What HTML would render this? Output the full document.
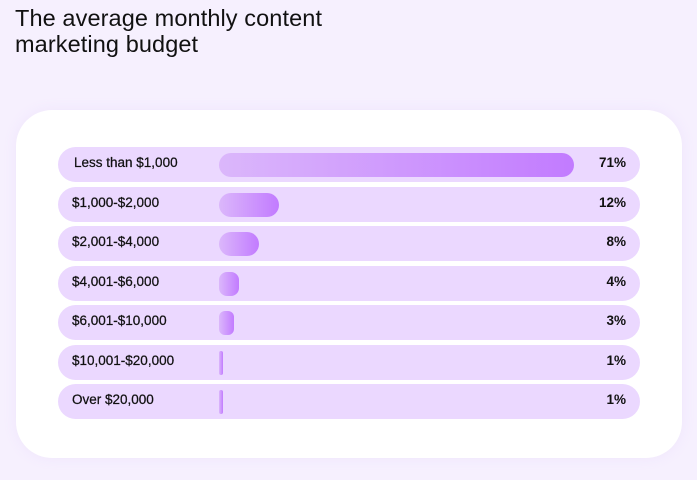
<!DOCTYPE html>
<html><head><meta charset="utf-8"><style>
*{margin:0;padding:0;box-sizing:border-box}
body{width:697px;height:480px;overflow:hidden;background:#f6f0fe;font-family:"Liberation Sans",sans-serif;color:#111;position:relative}
h1{position:absolute;left:15px;top:5px;font-size:23.5px;font-weight:normal;line-height:26px;letter-spacing:0.1px;width:360px}
.card{position:absolute;left:16px;top:110px;width:666px;height:348px;background:#fff;border-radius:36px;box-shadow:0 0 14px #efe5fd}
.row{position:absolute;left:58px;width:582px;height:35px;background:#ebd8ff;border-radius:18px}
.lab{position:absolute;left:14px;top:8px;font-size:13.5px;-webkit-text-stroke:0.25px #111}
.pct{position:absolute;right:14px;top:8px;font-size:13.5px;font-weight:bold}
.bar{position:absolute;left:161px;top:6px;height:24px;border-radius:12px;background:linear-gradient(90deg,#dbb7fb,#c27bff)}
</style></head><body>
<h1>The average monthly content marketing budget</h1>
<div class="card"></div>
<div class="row" style="top:147px"><span class="lab" style="left:16px">Less than $1,000</span><div class="bar" style="width:355px"></div><span class="pct">71%</span></div>
<div class="row" style="top:186.5px"><span class="lab">$1,000-$2,000</span><div class="bar" style="width:60px"></div><span class="pct">12%</span></div>
<div class="row" style="top:226px"><span class="lab">$2,001-$4,000</span><div class="bar" style="width:40px"></div><span class="pct">8%</span></div>
<div class="row" style="top:265.5px"><span class="lab">$4,001-$6,000</span><div class="bar" style="width:20px;border-radius:8px"></div><span class="pct">4%</span></div>
<div class="row" style="top:305px"><span class="lab">$6,001-$10,000</span><div class="bar" style="width:15px;border-radius:6px"></div><span class="pct">3%</span></div>
<div class="row" style="top:344.5px"><span class="lab">$10,001-$20,000</span><div class="bar" style="width:4px;border-radius:2px"></div><span class="pct">1%</span></div>
<div class="row" style="top:384px"><span class="lab">Over $20,000</span><div class="bar" style="width:4px;border-radius:2px"></div><span class="pct">1%</span></div>
</body></html>
